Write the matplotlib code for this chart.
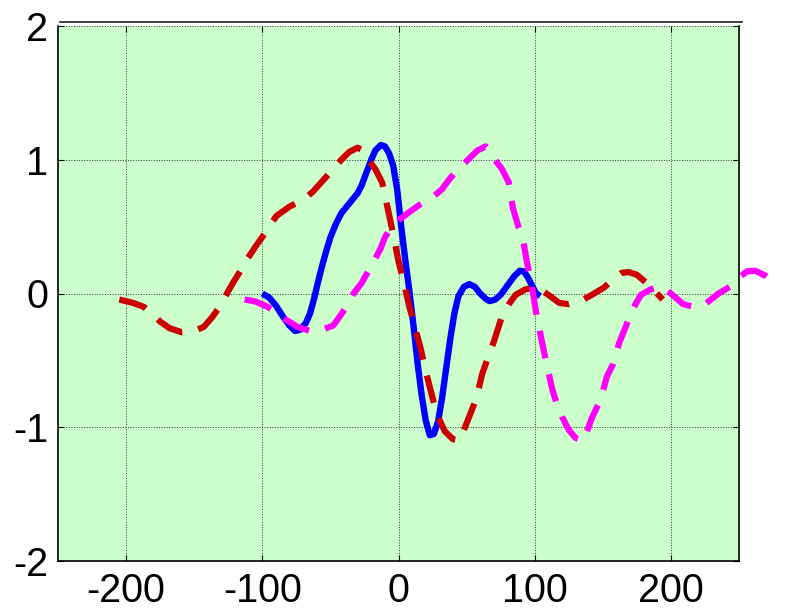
import numpy as np
import matplotlib
matplotlib.use('Agg')
import matplotlib.pyplot as plt
from matplotlib.lines import Line2D

plt.rcParams['font.family'] = ['Liberation Sans', 'DejaVu Sans']

# solid blue pulse
blue_x = [-100, -95, -90, -85, -80, -76, -72, -68, -65, -62, -59, -56, -53, -50,
          -46, -42, -38, -34, -30, -27, -23, -20, -17, -13, -10, -7, -4, -1, 2, 5,
          8, 11, 14, 17, 20, 23, 26, 29, 32, 35, 38, 41, 44, 48, 52, 56, 60, 64,
          67, 71, 75, 80, 85, 89, 92, 95, 98, 101, 104]
blue_y = [0.0, -0.03, -0.09, -0.17, -0.24, -0.28, -0.27, -0.22, -0.15, -0.04, 0.09,
          0.21, 0.32, 0.42, 0.52, 0.60, 0.65, 0.70, 0.75, 0.81, 0.92, 1.0, 1.07,
          1.11, 1.10, 1.05, 0.96, 0.78, 0.50, 0.25, 0.02, -0.24, -0.52, -0.76,
          -0.95, -1.06, -1.05, -0.96, -0.78, -0.56, -0.34, -0.15, -0.02, 0.05, 0.07,
          0.05, 0.0, -0.04, -0.057, -0.045, -0.01, 0.06, 0.13, 0.17, 0.165, 0.12,
          0.06, 0.0, -0.02]

# dark red dashed (leading copy)
red_x = [-205, -195, -187, -180, -175, -168, -159, -150, -143, -137, -130, -126,
         -121.5, -116, -111.6, -105, -99.5, -95, -89.6, -80, -70, -63, -55, -48,
         -42, -36, -30, -26, -23, -17, -12, -8, -4, 0, 4, 8, 12, 16, 20, 24, 28,
         34, 40, 45, 50, 57, 61.5, 66, 70, 76, 81, 86, 93, 101, 110, 118, 125, 133,
         142, 151, 158, 164, 169, 175, 182, 188, 194]
red_y = [-0.045, -0.07, -0.10, -0.16, -0.21, -0.26, -0.29, -0.28, -0.25, -0.18,
         -0.08, 0.0, 0.08, 0.17, 0.25, 0.35, 0.43, 0.50, 0.58, 0.65, 0.70, 0.76,
         0.85, 0.93, 1.0, 1.06, 1.09, 1.07, 1.01, 0.93, 0.83, 0.64, 0.45, 0.24,
         0.08, -0.10, -0.25, -0.40, -0.58, -0.74, -0.90, -1.03, -1.09, -1.10, -0.97,
         -0.79, -0.60, -0.47, -0.36, -0.17, -0.08, -0.01, 0.03, 0.05, -0.01, -0.07,
         -0.08, -0.06, -0.01, 0.045, 0.11, 0.155, 0.16, 0.14, 0.08, 0.02, -0.045]

# magenta dashed (trailing copy)
mag_x = [-113, -105, -97, -90, -82, -74, -65, -56, -48, -43, -38, -33, -27, -22,
         -17.6, -13, -10, -5, 0, 3, 8, 15, 25, 32, 37, 42, 50, 58, 64, 67, 70, 76,
         81, 84, 88, 91, 94, 98, 101, 104.5, 109, 113, 117, 120, 125, 130, 136,
         142, 148.5, 153, 157, 162, 166, 169, 174, 178, 185, 192, 200, 209, 217,
         225, 235, 244, 250, 256, 262, 270, 277]
mag_y = [-0.045, -0.06, -0.095, -0.14, -0.20, -0.25, -0.28, -0.27, -0.24, -0.17,
         -0.095, 0.0, 0.08, 0.17, 0.25, 0.34, 0.42, 0.50, 0.55, 0.57, 0.61, 0.66,
         0.72, 0.78, 0.85, 0.91, 0.99, 1.07, 1.10, 1.07, 1.01, 0.93, 0.83, 0.64,
         0.50, 0.43, 0.25, 0.05, -0.14, -0.32, -0.54, -0.72, -0.85, -0.92, -1.02,
         -1.08, -1.10, -0.93, -0.79, -0.62, -0.54, -0.37, -0.27, -0.19, -0.08,
         -0.01, 0.03, 0.055, 0.0, -0.08, -0.10, -0.08, 0.0, 0.055, 0.12, 0.166,
         0.17, 0.13, 0.08]

x_ticks = [-200, -100, 0, 100, 200]
y_ticks = [-2, -1, 0, 1, 2]

fig = plt.figure(figsize=(7.85, 6.11), dpi=100)
ax = fig.add_axes([58 / 785, 1 - 561 / 611, 681 / 785, 535 / 611])
ax.set_facecolor('#ccffcc')

ax.plot(blue_x, blue_y, color='#0000ff', lw=4.6, solid_capstyle='butt')
ax.plot(red_x, red_y, color='#cc0000', lw=4.5, dashes=(4.5, 2.6),
        dash_capstyle='butt')
ax.plot(mag_x, mag_y, color='#ff00ff', lw=4.5, dashes=(4.5, 2.6),
        dash_capstyle='butt', clip_on=False)

ax.set_xlim(-250, 250)
ax.set_ylim(-2, 2)
ax.set_xticks(x_ticks)
ax.set_yticks(y_ticks)
ax.set_xticklabels([str(v) for v in x_ticks])
ax.set_yticklabels([str(v) for v in y_ticks])
ax.grid(True, color='#333333', linestyle=':', lw=0.7)
ax.set_axisbelow(True)
ax.tick_params(direction='in', length=4, width=0.8, labelsize=28.5,
               top=True, right=True, pad=7)
ax.tick_params(axis='x', pad=8)

for side in ['left', 'right', 'bottom']:
    ax.spines[side].set_linewidth(1.2)
    ax.spines[side].set_color('black')
ax.spines['top'].set_visible(False)

# frame line above the plot area
fig.add_artist(Line2D([60 / 785, 742 / 785], [1 - 21.5 / 611, 1 - 21.5 / 611],
                      color='#222222', lw=1.2, transform=fig.transFigure))

fig.savefig('out.png', dpi=100)
